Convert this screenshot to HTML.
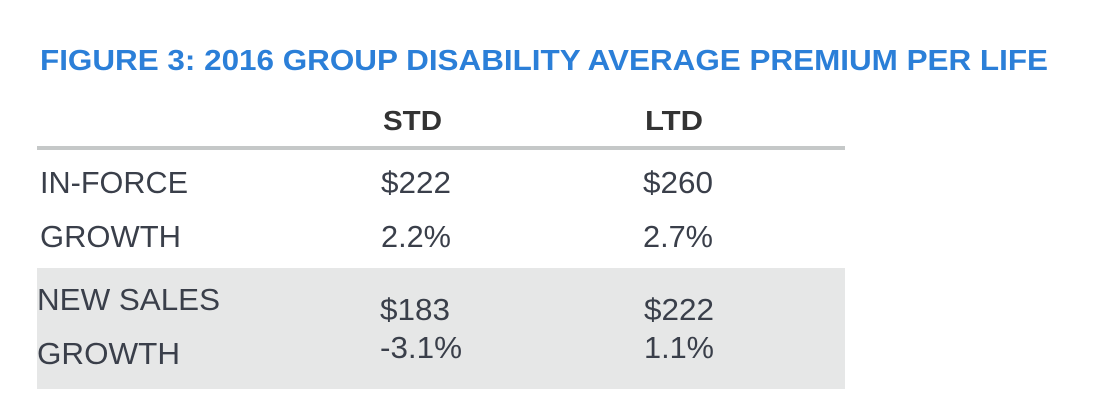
<!DOCTYPE html>
<html><head><meta charset="utf-8"><style>
html,body{margin:0;padding:0;background:#fff;width:1111px;height:417px;overflow:hidden}
svg{display:block}
text{font-family:"Liberation Sans",Arial,sans-serif}
</style></head><body>
<svg width="1111" height="417" viewBox="0 0 1111 417" xmlns="http://www.w3.org/2000/svg">
<text x="40" y="70" font-size="29" font-weight="bold" fill="#2b7fd8" textLength="1008" lengthAdjust="spacingAndGlyphs">FIGURE 3: 2016 GROUP DISABILITY AVERAGE PREMIUM PER LIFE</text>
<text x="383" y="130" font-size="28" font-weight="bold" fill="#333" textLength="59" lengthAdjust="spacingAndGlyphs">STD</text>
<text x="645" y="130" font-size="28" font-weight="bold" fill="#333" textLength="58" lengthAdjust="spacingAndGlyphs">LTD</text>
<rect x="37" y="146" width="808" height="4" fill="#c5c8c8"/>
<rect x="37" y="268" width="808" height="121" fill="#e6e7e7"/>
<g font-size="31" fill="#3a3f4a">
<text x="40" y="193" textLength="148" lengthAdjust="spacingAndGlyphs">IN-FORCE</text>
<text x="381" y="193" textLength="70" lengthAdjust="spacingAndGlyphs">$222</text>
<text x="643" y="193" textLength="70" lengthAdjust="spacingAndGlyphs">$260</text>
<text x="40" y="247" textLength="141" lengthAdjust="spacingAndGlyphs">GROWTH</text>
<text x="381" y="247" textLength="70" lengthAdjust="spacingAndGlyphs">2.2%</text>
<text x="643" y="247" textLength="70" lengthAdjust="spacingAndGlyphs">2.7%</text>
<text x="37" y="310" textLength="183" lengthAdjust="spacingAndGlyphs">NEW SALES</text>
<text x="380" y="320" textLength="70" lengthAdjust="spacingAndGlyphs">$183</text>
<text x="644" y="320" textLength="70" lengthAdjust="spacingAndGlyphs">$222</text>
<text x="37" y="364" textLength="143" lengthAdjust="spacingAndGlyphs">GROWTH</text>
<text x="380" y="358" textLength="82" lengthAdjust="spacingAndGlyphs">-3.1%</text>
<text x="644" y="358" textLength="70" lengthAdjust="spacingAndGlyphs">1.1%</text>
</g>
</svg>
</body></html>
